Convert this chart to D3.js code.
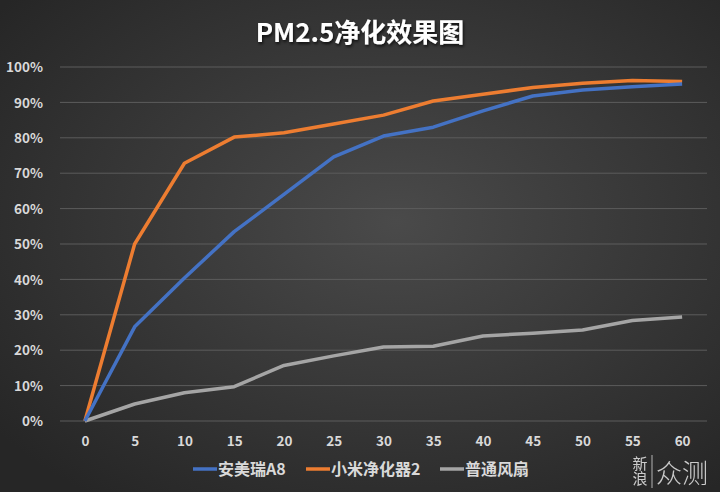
<!DOCTYPE html>
<html>
<head>
<meta charset="utf-8">
<script src="https://cdn.jsdelivr.net/npm/d3@7"></script>
<style>
  html, body { margin: 0; padding: 0; background: #333; }
  #chart { width: 720px; height: 492px; }
</style>
</head>
<body>
<div id="chart"></div>
<script>
// minutes
const minutes = [0, 5, 10, 15, 20, 25, 30, 35, 40, 45, 50, 55, 60];
const seriesNames = ['安美瑞A8', '小米净化器2', '普通风扇'];
// purification rate, %
const anmeiruiA8 = [0, 26.6, 40.4, 53.5, 64, 74.6, 80.5, 83, 87.6, 91.8, 93.5, 94.4, 95.2];
const xiaomi2 = [0, 50, 72.8, 80.2, 81.4, 83.9, 86.4, 90.4, 92.3, 94.2, 95.4, 96.2, 95.9];
const fan = [0, 4.8, 8, 9.7, 15.7, 18.4, 20.9, 21.1, 24, 24.8, 25.7, 28.4, 29.4];
const yTicks = [0, 10, 20, 30, 40, 50, 60, 70, 80, 90, 100];
const colors = ['#4472c4', '#ed7d31', '#a5a5a5'];

const W = 720, H = 492;
const margin = { top: 67, right: 13, bottom: 71, left: 60 };
const font = '"Noto Sans CJK SC", "Noto Sans", sans-serif';

const svg = d3.select('#chart').append('svg')
  .attr('width', W).attr('height', H);

// Background gradient
const defs = svg.append('defs');
const bg = defs.append('radialGradient').attr('id', 'bg')
  .attr('cx', '55%').attr('cy', '45%').attr('r', '70%');
bg.append('stop').attr('offset', '0%').attr('stop-color', '#4a4a4a');
bg.append('stop').attr('offset', '100%').attr('stop-color', '#262626');
svg.append('rect').attr('width', W).attr('height', H).attr('fill', 'url(#bg)');

const shadow = defs.append('filter').attr('id', 'shadow')
  .attr('x', '-10%').attr('y', '-20%').attr('width', '120%').attr('height', '150%');
shadow.append('feDropShadow').attr('dx', 1).attr('dy', 2)
  .attr('stdDeviation', 1.5).attr('flood-color', '#000').attr('flood-opacity', 0.7);

// Title
svg.append('text')
  .attr('x', W / 2).attr('y', 42)
  .attr('text-anchor', 'middle')
  .style('font-family', font)
  .style('font-size', '26px')
  .style('font-weight', 'bold')
  .style('fill', '#fff')
  .attr('filter', 'url(#shadow)')
  .text('PM2.5净化效果图');

const x = d3.scalePoint()
  .domain(minutes)
  .range([margin.left, W - margin.right])
  .padding(0.5);

const y = d3.scaleLinear()
  .domain([0, 100])
  .range([H - margin.bottom, margin.top]);

const g = svg.append('g');

// Gridlines
g.selectAll('.grid')
  .data(yTicks)
  .enter().append('line')
  .attr('x1', margin.left).attr('x2', W - margin.right)
  .attr('y1', d => y(d)).attr('y2', d => y(d))
  .attr('stroke', '#5c5c5c').attr('stroke-width', 1);

// Y axis labels
const yAxis = svg.append('g')
  .attr('transform', `translate(${margin.left - 14},0)`)
  .call(d3.axisLeft(y).tickValues(yTicks).tickSize(0).tickFormat(d => d + '%'));
yAxis.select('.domain').remove();
yAxis.selectAll('text')
  .attr('dy', '0.35em')
  .style('font-family', font)
  .style('font-size', '13.5px')
  .style('font-weight', 'bold')
  .style('fill', '#d9d9d9');

// X axis labels
const xAxis = svg.append('g')
  .attr('transform', `translate(0,${y(0) + 12})`)
  .call(d3.axisBottom(x).tickSize(0));
xAxis.select('.domain').remove();
xAxis.selectAll('text')
  .style('font-family', font)
  .style('font-size', '13.5px')
  .style('font-weight', 'bold')
  .style('fill', '#d9d9d9');

// Lines
const line = d3.line()
  .x((d, i) => x(minutes[i]))
  .y(d => y(d));

const allSeries = [anmeiruiA8, xiaomi2, fan];
// draw order: gray first, then orange, blue on top
[2, 1, 0].forEach(k => {
  g.append('path')
    .datum(allSeries[k])
    .attr('d', line)
    .attr('fill', 'none')
    .attr('stroke', colors[k])
    .attr('stroke-width', 3.5)
    .attr('stroke-linejoin', 'round');
});

// Legend
const legendX = [193, 306, 440];
const legend = svg.append('g').attr('transform', 'translate(0,469)');
seriesNames.forEach((name, i) => {
  legend.append('line')
    .attr('x1', legendX[i]).attr('x2', legendX[i] + 24)
    .attr('y1', 0).attr('y2', 0)
    .attr('stroke', colors[i]).attr('stroke-width', 3.5);
  legend.append('text')
    .attr('x', legendX[i] + 25).attr('y', 0).attr('dy', '0.35em')
    .style('font-family', font)
    .style('font-size', '16px')
    .style('font-weight', 'bold')
    .style('fill', '#d9d9d9')
    .text(name);
});

// Watermark
const wm = svg.append('g').style('font-family', font).style('fill', '#e8e8e8').style('opacity', 0.85);
wm.append('text').attr('x', 640).attr('y', 456)
  .style('writing-mode', 'vertical-rl')
  .style('font-size', '15px').text('新浪');
wm.append('line').attr('x1', 652).attr('x2', 652).attr('y1', 455).attr('y2', 488)
  .attr('stroke', '#ccc').attr('stroke-width', 1);
wm.append('text').attr('x', 656).attr('y', 483)
  .style('font-size', '26px').style('font-weight', '300').text('众测');
</script>
</body>
</html>
